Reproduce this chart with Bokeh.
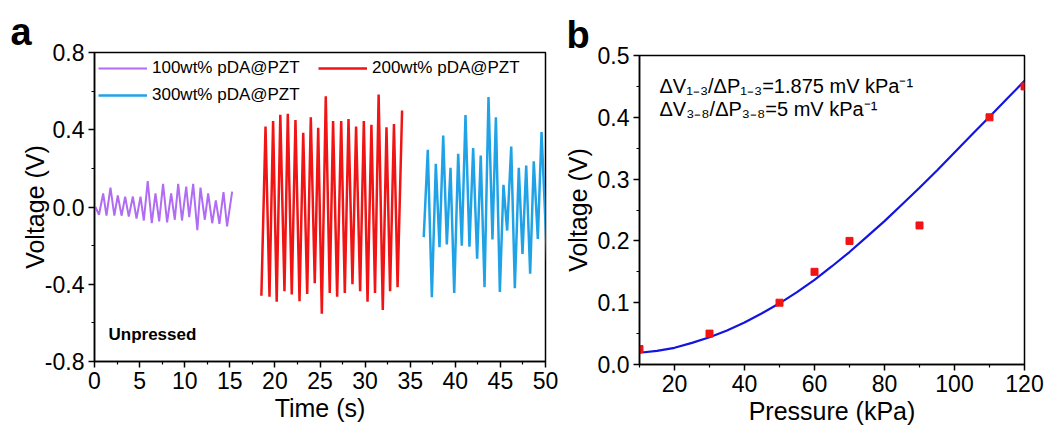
from bokeh.plotting import figure
from bokeh.layouts import row, column
from bokeh.models import FixedTicker, Label, Legend, LegendItem, Range1d, PrintfTickFormatter, Spacer
from bokeh.embed import file_html
from bokeh.resources import INLINE

FONT = "Liberation Sans"

# ---------------- Panel a data (time in s, voltage in V) ----------------
t_100 = [0.1, 0.5, 0.96, 1.33, 1.77, 2.2, 2.58, 3.0, 3.4, 3.8, 4.25, 4.66, 5.1, 5.47, 5.9, 6.35,
         6.76, 7.17, 7.6, 8.05, 8.5, 8.9, 9.28, 9.7, 10.17, 10.5, 10.94, 11.4, 11.75, 12.23,
         12.6, 13.05, 13.45, 13.85, 14.3, 14.7, 15.26]
v_100 = [0.0, -0.04, 0.07, -0.045, 0.10, -0.045, 0.06, -0.045, 0.054, -0.05, 0.054, -0.06,
         0.054, -0.07, 0.134, -0.084, 0.07, -0.074, 0.12, -0.08, 0.07, -0.066, 0.12, -0.07,
         0.106, -0.053, 0.12, -0.12, 0.10, -0.066, 0.07, -0.084, 0.034, -0.087, 0.077, -0.10, 0.08]

t_200 = [18.5, 18.96, 19.4, 19.8, 20.2, 20.6, 21.06, 21.43, 21.87, 22.28, 22.73, 23.14, 23.58,
         23.98, 24.42, 24.8, 25.2, 25.64, 26.08, 26.45, 26.9, 27.35, 27.75, 28.16, 28.6, 29.0,
         29.45, 29.86, 30.27, 30.7, 31.1, 31.5, 31.96, 32.37, 32.77, 33.2, 33.6, 34.1]
v_200 = [-0.46, 0.417, -0.465, 0.445, -0.49, 0.477, -0.436, 0.483, -0.453, 0.45, -0.488, 0.384,
         -0.45, 0.465, -0.395, 0.41, -0.553, 0.573, -0.445, 0.445, -0.464, 0.445, -0.445, 0.455,
         -0.40, 0.417, -0.436, 0.445, -0.49, 0.426, -0.445, 0.583, -0.533, 0.413, -0.436, 0.43,
         -0.415, 0.50]

t_300 = [36.5, 36.95, 37.4, 37.84, 38.25, 38.66, 39.06, 39.47, 39.88, 40.32, 40.72, 41.13, 41.57,
         41.98, 42.42, 42.82, 43.24, 43.68, 44.12, 44.5, 44.94, 45.34, 45.75, 46.2, 46.6, 47.04,
         47.45, 47.86, 48.3, 48.7, 49.15, 49.56, 50.2]
v_300 = [-0.156, 0.296, -0.467, 0.224, -0.208, 0.37, -0.194, 0.203, -0.445, 0.276, -0.2, 0.476,
         -0.205, 0.305, -0.268, 0.267, -0.415, 0.569, -0.168, 0.465, -0.44, 0.115, -0.122, 0.313,
         -0.42, 0.203, -0.243, 0.215, -0.346, 0.237, -0.165, 0.388, -0.30]

labels_a = ["100wt% pDA@PZT", "200wt% pDA@PZT", "300wt% pDA@PZT"]
colors_a = ["#B06CF2", "#F01414", "#20A2E6"]

x_ticks_a = [0, 5, 10, 15, 20, 25, 30, 35, 40, 45, 50]
x_minor_a = [2.5, 7.5, 12.5, 17.5, 22.5, 27.5, 32.5, 37.5, 42.5, 47.5]
y_ticks_a = [-0.8, -0.4, 0.0, 0.4, 0.8]
y_minor_a = [-0.6, -0.2, 0.2, 0.6]

# ---------------- Panel b data (pressure in kPa, voltage in V) ----------------
pressure = [10, 30, 50, 60, 70, 90, 110, 120]
voltage = [0.025, 0.05, 0.10, 0.15, 0.20, 0.225, 0.40, 0.45]

fit_pressure = [10, 15, 20, 25, 30, 35, 40, 45, 50, 55, 60, 65, 70, 75, 80, 85, 90, 95, 100,
                105, 110, 115, 120]
fit_voltage = [0.019, 0.022, 0.027, 0.035, 0.044, 0.055, 0.068, 0.083, 0.099, 0.117, 0.137,
               0.159, 0.182, 0.207, 0.232, 0.259, 0.286, 0.314, 0.343, 0.372, 0.401, 0.430, 0.459]

x_ticks_b = [20, 40, 60, 80, 100, 120]
x_minor_b = [10, 30, 50, 70, 90, 110]
y_ticks_b = [0.0, 0.1, 0.2, 0.3, 0.4, 0.5]
y_minor_b = [0.05, 0.15, 0.25, 0.35, 0.45]

annot_b = ["ΔV₁₋₃/ΔP₁₋₃=1.875 mV kPa⁻¹", "ΔV₃₋₈/ΔP₃₋₈=5 mV kPa⁻¹"]


def style_axes(p, ylab_standoff):
    for ax in (p.xaxis[0], p.yaxis[0]):
        ax.axis_line_color = "black"
        ax.axis_line_width = 1.5
        ax.major_tick_line_color = "black"
        ax.major_tick_line_width = 1.5
        ax.minor_tick_line_color = "black"
        ax.minor_tick_line_width = 1.2
        ax.major_tick_out = 6
        ax.major_tick_in = 0
        ax.minor_tick_out = 3
        ax.minor_tick_in = 0
        ax.major_label_text_font = FONT
        ax.major_label_text_font_size = "23px"
        ax.major_label_text_color = "black"
        ax.major_label_standoff = 4
        ax.axis_label_text_font = FONT
        ax.axis_label_text_font_size = "25px"
        ax.axis_label_text_font_style = "normal"
        ax.axis_label_text_color = "black"
        ax.axis_label_standoff = 2
    p.yaxis[0].axis_label_standoff = ylab_standoff
    p.xgrid.visible = False
    p.ygrid.visible = False
    p.outline_line_color = "black"
    p.outline_line_width = 1.5
    p.outline_line_alpha = 1.0


def panel_letter(p, letter, offset):
    p.title.text = letter
    p.title.align = "left"
    p.title.offset = offset
    p.title.standoff = 0
    p.title.text_font = FONT
    p.title.text_font_size = "38px"
    p.title.text_font_style = "bold"
    p.title.text_color = "black"


# ---------------- Panel a ----------------
pa = figure(frame_width=451, frame_height=309, output_backend="svg", toolbar_location=None,
            x_range=Range1d(0, 50), y_range=Range1d(-0.8, 0.8),
            min_border_left=94, min_border_right=15, min_border_top=52, min_border_bottom=59,
            x_axis_label="Time (s)", y_axis_label="Voltage (V)")
style_axes(pa, -7)
panel_letter(pa, "a", -84)
pa.xaxis.ticker = FixedTicker(ticks=x_ticks_a, minor_ticks=x_minor_a)
pa.yaxis.ticker = FixedTicker(ticks=y_ticks_a, minor_ticks=y_minor_a)
pa.yaxis.formatter = PrintfTickFormatter(format="%.1f")

series = [(t_100, v_100), (t_200, v_200), (t_300, v_300)]
widths = [2, 2.5, 2.5]
renderers = []
for (tt, vv), c, w in zip(series, colors_a, widths):
    renderers.append(pa.line(tt, vv, line_color=c, line_width=w))

items = [LegendItem(label=lab, renderers=[r]) for lab, r in zip(labels_a, renderers)]
leg = Legend(items=items, location="top_left", orientation="horizontal", ncols=2,
             margin=0, padding=4, spacing=3, glyph_width=49, glyph_height=24,
             label_height=24, label_width=163, label_standoff=5,
             label_text_font=FONT, label_text_font_size="17px", label_text_color="black",
             background_fill_alpha=0, border_line_alpha=0)
pa.add_layout(leg)

pa.add_layout(Label(x=1.55, y=-0.66, text="Unpressed", text_font=FONT, text_font_size="17px",
                    text_font_style="bold", text_baseline="middle", text_color="black"))

# ---------------- Panel b ----------------
pb = figure(frame_width=385, frame_height=309, output_backend="svg", toolbar_location=None,
            x_range=Range1d(10, 120), y_range=Range1d(0, 0.5),
            min_border_left=78, min_border_right=22, min_border_top=52, min_border_bottom=56,
            x_axis_label="Pressure (kPa)", y_axis_label="Voltage (V)")
style_axes(pb, 3)
panel_letter(pb, "b", -73)
pb.xaxis.ticker = FixedTicker(ticks=x_ticks_b, minor_ticks=x_minor_b)
pb.yaxis.ticker = FixedTicker(ticks=y_ticks_b, minor_ticks=y_minor_b)
pb.yaxis.formatter = PrintfTickFormatter(format="%.1f")

pb.line(fit_pressure, fit_voltage, line_color="#1414E0", line_width=2.2)
pb.scatter(pressure, voltage, marker="square", size=7, fill_color="#F01414", line_color="#F01414")

for txt, yy in zip(annot_b, [0.451, 0.414]):
    pb.add_layout(Label(x=15.7, y=yy, text=txt, text_font=FONT, text_font_size="20px",
                        text_baseline="middle", text_color="black"))

layout = row(pa, column(Spacer(height=3, width=10), pb))
open("out.html", "w").write(file_html(layout, INLINE))
